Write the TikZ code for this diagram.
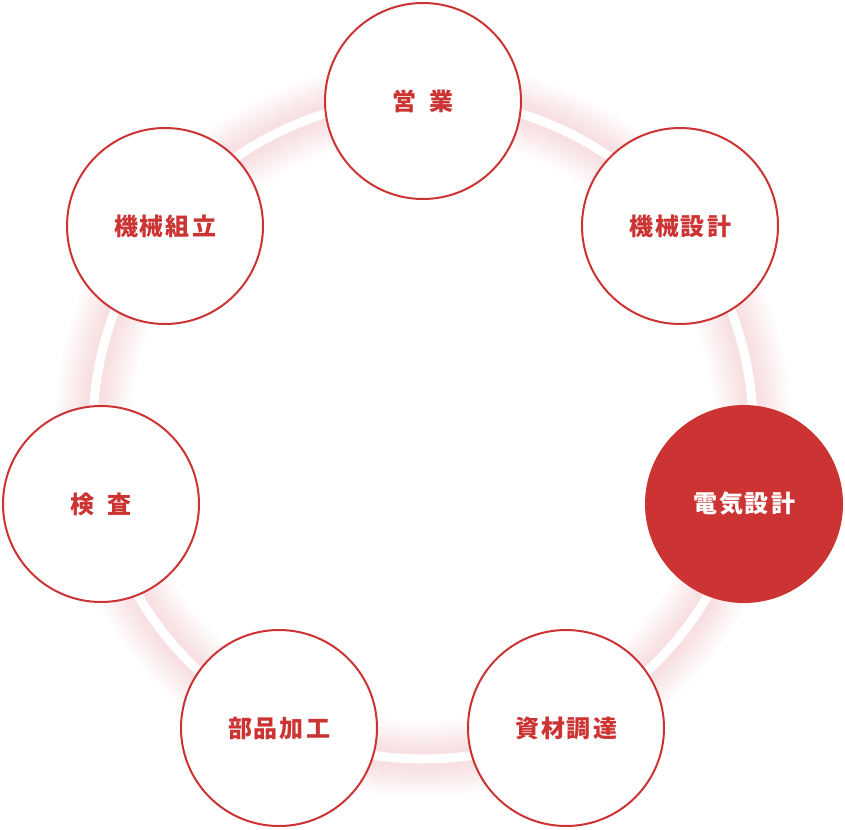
\documentclass[tikz,border=0pt]{standalone}
\usepackage{fontspec}
\newfontfamily\jp{Noto Sans CJK JP}
\definecolor{mainred}{RGB}{204,51,51}
\definecolor{glowred}{RGB}{214,90,105}
\tikzset{
  stepcirc/.style={circle, draw=mainred, line width=2pt, fill=white, minimum size=196pt, inner sep=0pt},
  stepfill/.style={circle, draw=mainred, line width=2pt, fill=mainred, minimum size=196pt, inner sep=0pt},
  steplbl/.style={font=\jp\bfseries\fontsize{24pt}{27pt}\selectfont, text=mainred, inner sep=0pt},
  steplblw/.style={steplbl, text=white},
}
\newcommand{\ls}{\kern2pt}
\begin{document}
\begin{tikzpicture}[x=1pt,y=-1pt]
\useasboundingbox (0,0) rectangle (845,829);
\coordinate (ringc) at (423,429);
% glow
\foreach \w in {10,14,...,78}{
  \draw[glowred, opacity=0.010, line width=\w pt] (ringc) circle[radius=330pt];
}
\draw[white, line width=9pt] (ringc) circle[radius=330pt];
% circles
\node[stepcirc] (c1) at (423,101) {};
\node[stepcirc] (c2) at (680,226) {};
\node[stepfill] (c3) at (744,504) {};
\node[stepcirc] (c4) at (566,728) {};
\node[stepcirc] (c5) at (279,728) {};
\node[stepcirc] (c6) at (101,504) {};
\node[stepcirc] (c7) at (165,226) {};
% labels
\node[steplbl] (t1) at (c1.center) {営\kern13pt 業};
\node[steplbl] (t2) at (c2.center) {機\ls 械\ls 設\ls 計};
\node[steplblw] (t3) at (c3.center) {電\ls 気\ls 設\ls 計};
\node[steplbl] (t4) at (c4.center) {資\ls 材\ls 調\ls 達};
\node[steplbl] (t5) at (c5.center) {部\ls 品\ls 加\ls 工};
\node[steplbl] (t6) at (c6.center) {検\kern13pt 査};
\node[steplbl] (t7) at (c7.center) {機\ls 械\ls 組\ls 立};
\end{tikzpicture}
\end{document}
